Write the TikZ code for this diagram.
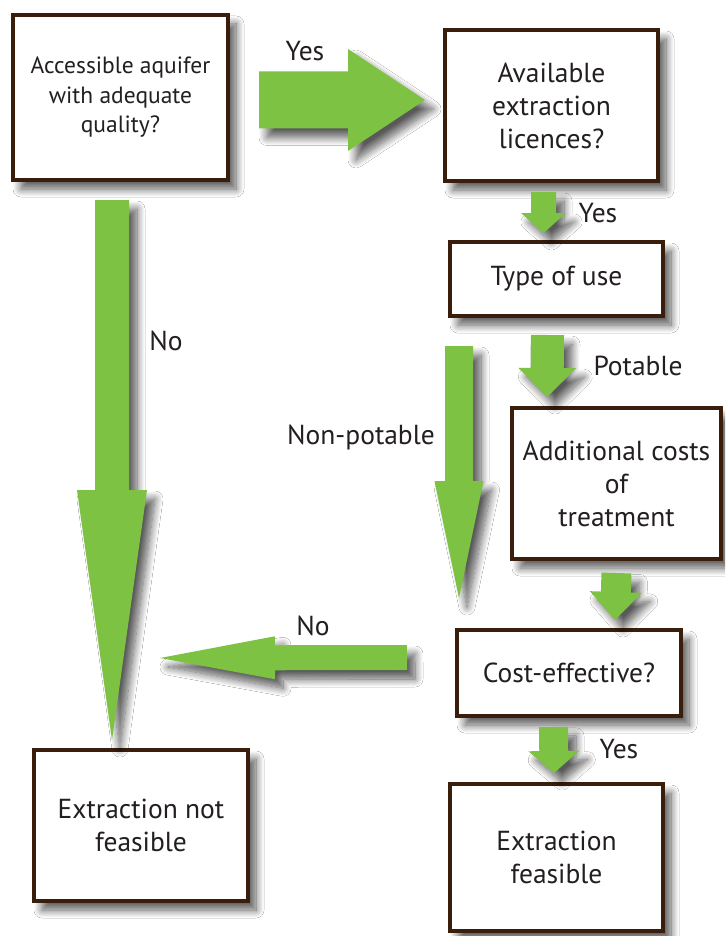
\documentclass[tikz,border=0pt]{standalone}
\usepackage{fontspec}
\setmainfont{PT Sans}
\usetikzlibrary{calc,shadows.blur}
\definecolor{leafgreen}{RGB}{125,194,66}
\definecolor{boxbrown}{RGB}{58,30,12}
\definecolor{inkgray}{RGB}{35,31,32}
\tikzset{
  softshadow/.style={blur shadow={shadow xshift=8pt, shadow yshift=-9pt,
      shadow blur radius=8pt, shadow blur steps=12, shadow opacity=65}},
  decision/.style={draw=boxbrown, line width=4pt, fill=white, align=center,
      text=inkgray, font=\fontsize{27.5}{33}\selectfont, softshadow, inner sep=0pt},
  flowarrow/.style={fill=leafgreen, softshadow},
  tag/.style={text=inkgray, font=\fontsize{27.5}{30}\selectfont, inner sep=0pt}
}
% block arrow: start, tip, shaft half width, head half width, head length
\newcommand\blockarrow[5]{%
  \fill[flowarrow] let \p1=($(#2)-(#1)$), \n1={veclen(\x1,\y1)}, \n2={atan2(\y1,\x1)} in
    ($(#1)+(\n2+90:#3)$) -- ++(\n2:\n1-#5) -- ++(\n2+90:#4-#3) -- (#2)
    -- ($(#1)+(\n2:\n1-#5)+(\n2-90:#4)$) -- ++(\n2+90:#4-#3)
    -- ($(#1)+(\n2-90:#3)$) -- cycle;}
\begin{document}
\begin{tikzpicture}[x=1pt,y=-1pt]
\fill[white] (0,0) rectangle (725,936);
\useasboundingbox (0,0) rectangle (725,936);
\clip (0,0) rectangle (725,936);

% decision and outcome boxes
\node[decision, minimum width=215pt, minimum height=165pt,
      font=\fontsize{23.5}{29.5}\selectfont] (aquifer) at (120.5,97.5)
      {Accessible aquifer\\with adequate\\quality?};
\node[decision, minimum width=213pt, minimum height=151pt] (licence) at (551.5,105.5)
      {Available\\extraction\\licences?};
\node[decision, minimum width=213pt, minimum height=74pt] (use) at (556.5,279)
      {Type of use};
\node[decision, minimum width=209pt, minimum height=151pt] (costs) at (616.5,483.5)
      {Additional costs\\of\\treatment};
\node[decision, minimum width=224pt, minimum height=86pt] (effective) at (569,673)
      {Cost-effective?};
\node[decision, minimum width=214pt, minimum height=151pt] (notfeasible) at (141,825.5)
      {Extraction not\\feasible};
\node[decision, minimum width=213pt, minimum height=147pt] (feasible) at (556.5,857.5)
      {Extraction\\feasible};

% arrow end points
\coordinate (yesS)  at ($(aquifer.east)+(29,2.5)$);
\coordinate (yesT)  at ($(licence.west)+(-18,-5.5)$);
\coordinate (noS)   at ($(aquifer.south)+(-8.5,18)$);
\coordinate (noT)   at ($(notfeasible.north)+(-29,-8)$);
\coordinate (licS)  at ($(licence.south)+(-8,9)$);
\coordinate (licT)  at ($(use.north)+(-13,-7)$);
\coordinate (potS)  at ($(use.south)+(-9,17)$);
\coordinate (potT)  at ($(costs.north)+(-69.5,-9)$);
\coordinate (npS)   at ($(use.south)+(-97.5,28)$);
\coordinate (npT)   at (459,598);
\coordinate (trtS)  at ($(costs.south)+(0,12)$);
\coordinate (trtT)  at ($(effective.north)+(46,-8)$);
\coordinate (effS)  at ($(effective.south)+(-15.5,9)$);
\coordinate (effT)  at ($(feasible.north)+(-2.5,-9)$);
\coordinate (rejS)  at ($(effective.west)+(-48,-15.5)$);
\coordinate (rejT)  at (160,658);

% flow arrows
\blockarrow{yesS}{yesT}{28.5pt}{51pt}{77pt}
\blockarrow{noS}{noT}{17pt}{35pt}{250pt}
\blockarrow{licS}{licT}{12.5pt}{22.5pt}{20pt}
\blockarrow{potS}{potT}{16.5pt}{29pt}{29pt}
\blockarrow{npS}{npT}{14pt}{24.5pt}{117pt}
\blockarrow{trtS}{trtT}{15pt}{26pt}{28pt}
\blockarrow{effS}{effT}{14.5pt}{25.5pt}{22pt}
\blockarrow{rejS}{rejT}{12.5pt}{21.5pt}{115pt}

% arrow labels
\node[tag] (lyes1) at (305,51) {Yes};
\node[tag] (lno1) at (166,341) {No};
\node[tag] (lyes2) at (598,213) {Yes};
\node[tag] (lpot) at (638,366) {Potable};
\node[tag] (lnonpot) at (361,437) {Non-potable};
\node[tag] (lno2) at (313,626) {No};
\node[tag] (lyes3) at (619,749) {Yes};
\end{tikzpicture}
\end{document}
